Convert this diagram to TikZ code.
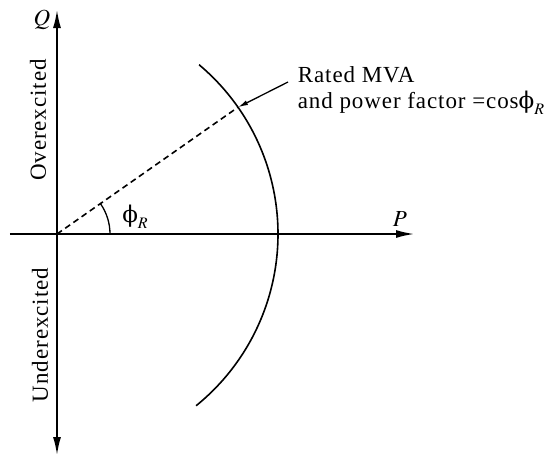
\documentclass[tikz,border=0pt]{standalone}
\usepackage{mathptmx}
\usepackage[no-math]{fontspec}
\setmainfont{Liberation Serif}
\newfontfamily\phifont{DejaVu Serif}
\newcommand{\phiR}{{\phifont ϕ}\raisebox{-0.25em}{\fontsize{16}{16}\selectfont$R$}}
\usetikzlibrary{arrows.meta}

\begin{document}
\begin{tikzpicture}[x=1pt, y=1pt, line width=1.6pt,
  axis/.style={-{Latex[length=18pt,width=8pt]}},
  lbl/.style={font=\fontsize{23}{26}\selectfont\addfontfeatures{LetterSpace=4}, inner sep=0pt}]
  \useasboundingbox (-57,-225) rectangle (495,234);
  % P and Q axes
  \draw[axis] (-47,0) -- (357,0);
  \draw[axis] (0,0) -- (0,224);
  \draw[axis] (0,0) -- (0,-221);
  \node[lbl] (Q) at (-15,214) {$Q$};
  \node[lbl] (P) at (343,15) {$P$};
  % Regions
  \node[lbl, rotate=90] (over) at (-19,114) {Overexcited};
  \node[lbl, rotate=90] (under) at (-17,-101) {Underexcited};
  % Rated MVA circle
  \draw (-51:221) arc (-51:50:221);
  \coordinate (X) at (35:221);
  \draw[dash pattern=on 6pt off 4pt] (0,0) -- (X);
  % Angle
  \draw[line width=1.3pt] (53,0) arc (0:35:53);
  \node[lbl] (phi) at (78,17) {\phiR};
  % Label with arrow
  \node[lbl, align=left, anchor=north west] (rated) at (240,168)
    {Rated MVA\\and power factor =cos\phiR};
  \coordinate (tail) at (231,152);
  \draw[-{Latex[length=10pt,width=5pt]}, line width=1.3pt] (tail) -- (X);
\end{tikzpicture}
\end{document}
